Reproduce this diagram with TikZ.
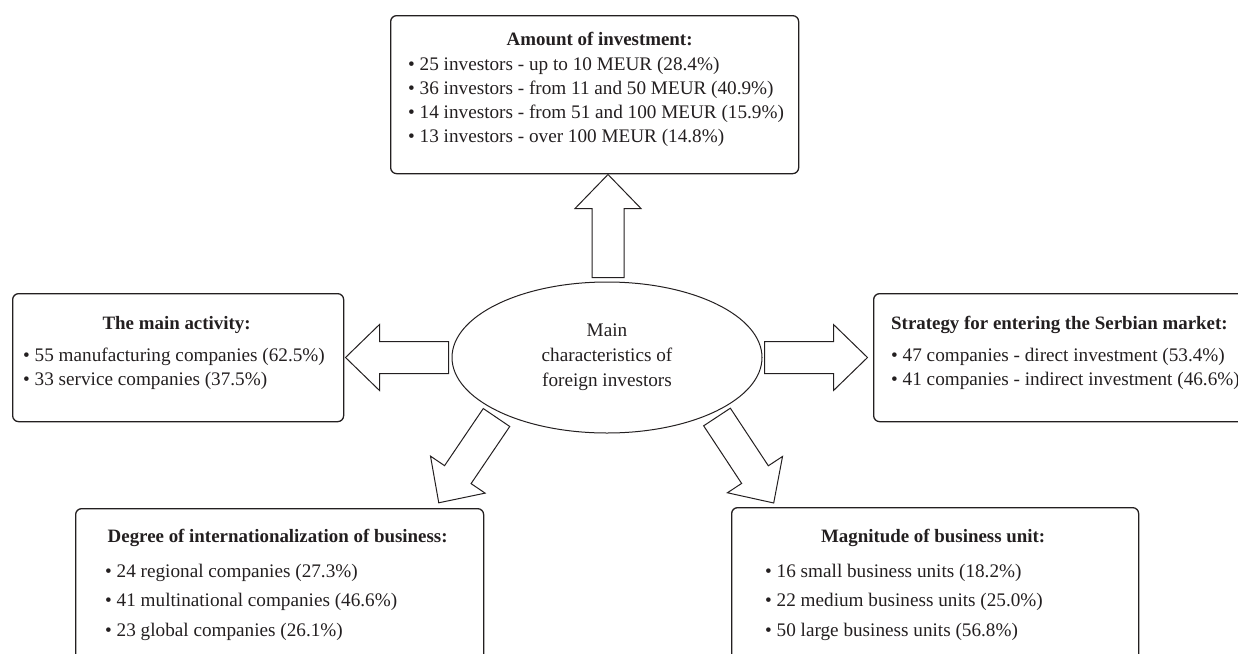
\documentclass[tikz,border=0pt]{standalone}
\usepackage{fontspec}
\setmainfont{Liberation Serif}
\usepackage{tikz}
\usetikzlibrary{shapes.geometric, calc, positioning}
\definecolor{ink}{RGB}{35,31,32}

\begin{document}
\begin{tikzpicture}[x=1pt,y=-1pt,
  every node/.style={text=ink,font=\fontsize{19.2}{24}\selectfont},
  panel/.style={draw=ink,line width=1.3pt,rounded corners=6pt,anchor=north west,inner sep=0pt},
  head/.style={font=\fontsize{18.9}{24}\selectfont\bfseries,anchor=base,inner sep=0pt},
  entry/.style={anchor=base west,inner sep=0pt},
  core/.style={draw=ink,line width=1pt,ellipse,minimum width=310pt,minimum height=151pt,
    align=center,inner sep=0pt,font=\fontsize{19.2}{25}\selectfont},
  blockarrow/.pic={\draw[ink,line width=1pt] (0,-16)--(69,-16)--(69,-33)--(103,0)--(69,33)--(69,16)--(0,16)--cycle;}
]
  \useasboundingbox (0,0) rectangle (1238,653);
  \clip (0,0) rectangle (1238,653);

  % centre
  \node[core] (core) at (607,357.5) {Main\\characteristics of\\foreign investors};

  % top: amount
  \node[panel,minimum width=408pt,minimum height=158pt] (amount) at (390,15) {};
  \node[head] (amounthead) at ($(amount.north)+(5,30)$) {Amount of investment:};
  \foreach \txt [count=\i] in {25 investors - up to 10 MEUR (28.4\%),
      36 investors - from 11 and 50 MEUR (40.9\%),
      14 investors - from 51 and 100 MEUR (15.9\%),
      13 investors - over 100 MEUR (14.8\%)}
    \node[entry] (amount\i) at ($(amount.north west)+(18,{31+24*\i})$) {\textbullet\ \txt};

  % left: activity
  \node[panel,minimum width=331pt,minimum height=128pt] (activity) at (12,293) {};
  \node[head] (activityhead) at ($(activity.north)+(-1.5,36)$) {The main activity:};
  \foreach \txt [count=\i] in {55 manufacturing companies (62.5\%),
      33 service companies (37.5\%)}
    \node[entry] (activity\i) at ($(activity.north west)+(11,{45+23.5*\i})$) {\textbullet\ \txt};

  % right: strategy
  \node[panel,minimum width=420pt,minimum height=128pt] (strategy) at (873,293) {};
  \node[head,anchor=base west] (strategyhead) at ($(strategy.north west)+(18,36)$) {Strategy for entering the Serbian market:};
  \foreach \txt [count=\i] in {47 companies - direct investment (53.4\%),
      41 companies - indirect investment (46.6\%)}
    \node[entry] (strategy\i) at ($(strategy.north west)+(18,{45+23.5*\i})$) {\textbullet\ \txt};

  % bottom left: internationalization
  \node[panel,minimum width=408pt,minimum height=200pt] (degree) at (75,508) {};
  \node[head] (degreehead) at ($(degree.north)+(-2,34)$) {Degree of internationalization of business:};
  \foreach \txt [count=\i] in {24 regional companies (27.3\%),
      41 multinational companies (46.6\%),
      23 global companies (26.1\%)}
    \node[entry] (degree\i) at ($(degree.north west)+(30,{39.5+29.5*\i})$) {\textbullet\ \txt};

  % bottom right: magnitude
  \node[panel,minimum width=407pt,minimum height=200pt] (size) at (731,507) {};
  \node[head] (sizehead) at ($(size.north)+(-2,35)$) {Magnitude of business unit:};
  \foreach \txt [count=\i] in {16 small business units (18.2\%),
      22 medium business units (25.0\%),
      50 large business units (56.8\%)}
    \node[entry] (size\i) at ($(size.north west)+(34,{40.5+29.5*\i})$) {\textbullet\ \txt};

  % block arrows out of the centre
  \pic[rotate=90] at ($(core.north)+(1,-4)$) {blockarrow};
  \pic[rotate=180] at ($(core.west)+(-3,0)$) {blockarrow};
  \pic at ($(core.east)+(2,0)$) {blockarrow};
  \pic[rotate=235.9] at ($(core.center)+(-110.5,60)$) {blockarrow};
  \pic[rotate=303.4] at ($(core.center)+(110,59.5)$) {blockarrow};
\end{tikzpicture}
\end{document}
